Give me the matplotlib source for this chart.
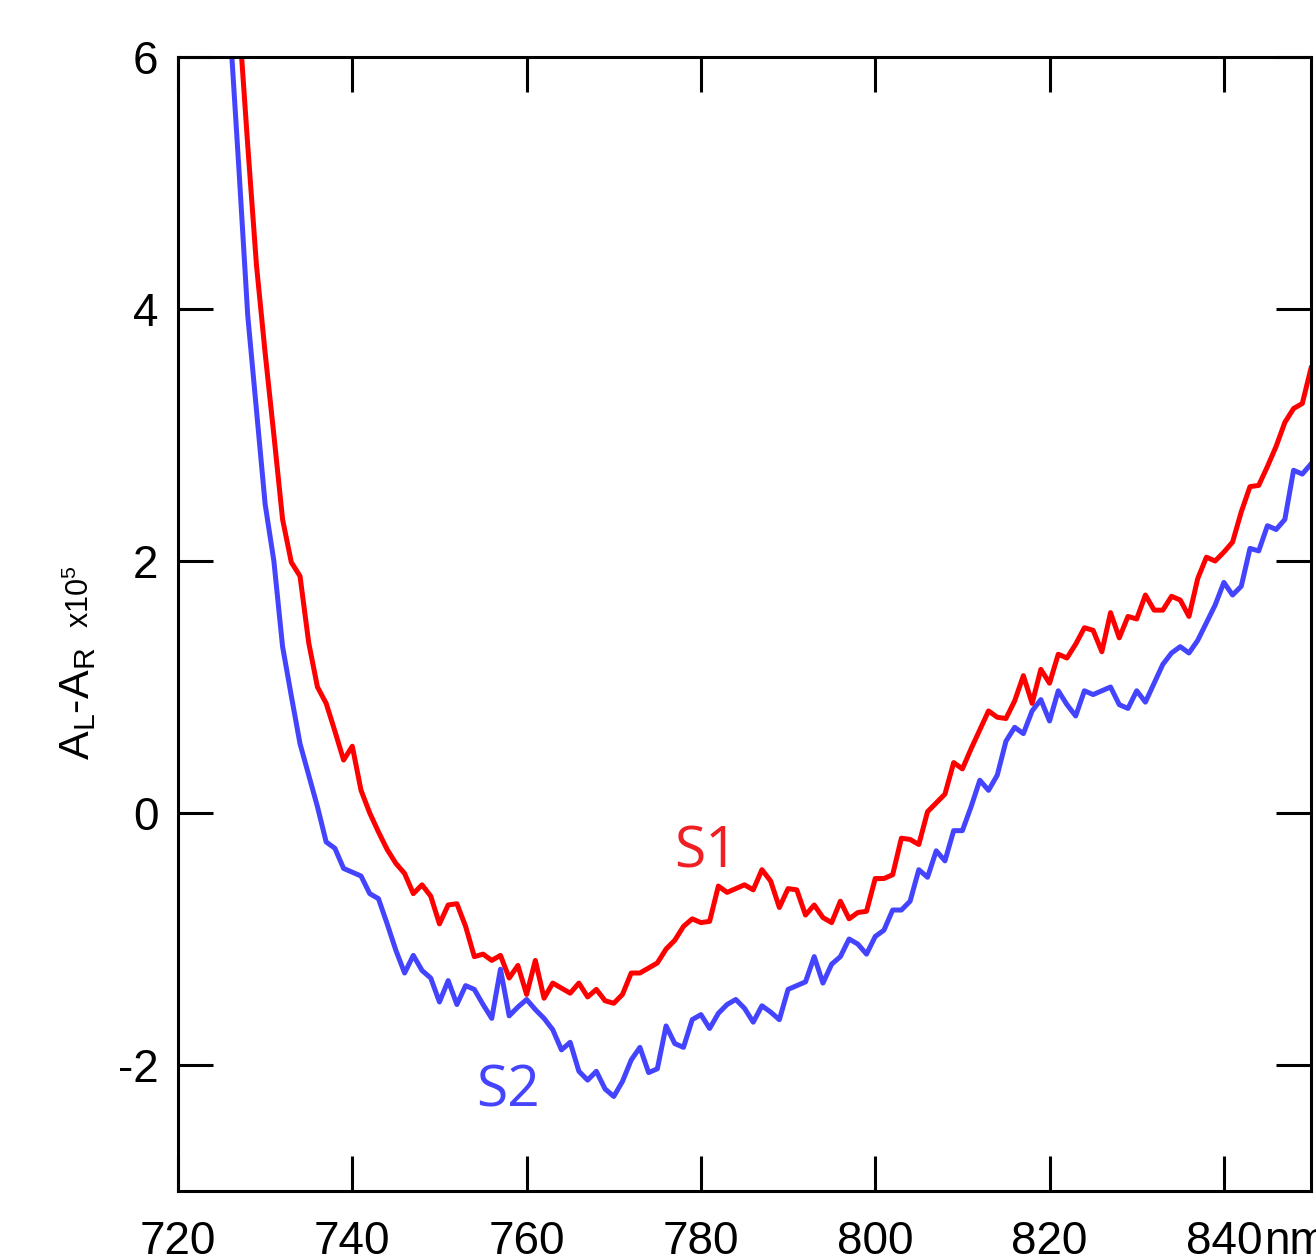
import numpy as np
import matplotlib
matplotlib.use('Agg')
import matplotlib.pyplot as plt
from matplotlib.transforms import blended_transform_factory

plt.rcParams['font.family'] = ['Liberation Sans', 'DejaVu Sans']
plt.rcParams['mathtext.default'] = 'regular'

# wavelength grid, 1 nm steps
wavelength = np.arange(726, 851)

s1 = [7.3, 6.3, 5.3, 4.35, 3.65, 3.0, 2.33, 1.99, 1.88, 1.35,
      1.00, 0.87, 0.65, 0.42, 0.53, 0.18, 0.0, -0.15, -0.29, -0.40,
      -0.48, -0.64, -0.57, -0.66, -0.88, -0.73, -0.72, -0.90, -1.14, -1.12,
      -1.17, -1.13, -1.31, -1.21, -1.44, -1.17, -1.47, -1.35, -1.39, -1.43,
      -1.35, -1.46, -1.40, -1.49, -1.51, -1.44, -1.27, -1.27, -1.23, -1.19,
      -1.08, -1.01, -0.90, -0.84, -0.87, -0.86, -0.58, -0.63, -0.60, -0.57,
      -0.61, -0.45, -0.54, -0.75, -0.60, -0.61, -0.81, -0.73, -0.83, -0.87,
      -0.70, -0.84, -0.79, -0.78, -0.52, -0.52, -0.49, -0.20, -0.21, -0.25,
      0.01, 0.08, 0.15, 0.40, 0.35, 0.51, 0.66, 0.81, 0.76, 0.75,
      0.89, 1.09, 0.87, 1.14, 1.03, 1.26, 1.23, 1.34, 1.47, 1.45,
      1.28, 1.59, 1.39, 1.56, 1.54, 1.73, 1.61, 1.61, 1.72, 1.69,
      1.56, 1.86, 2.03, 2.00, 2.07, 2.15, 2.39, 2.59, 2.60, 2.75,
      2.91, 3.10, 3.21, 3.25, 3.53]

s2 = [6.2, 5.1, 3.95, 3.2, 2.45, 2.0, 1.32, 0.93, 0.55, 0.30,
      0.05, -0.23, -0.28, -0.44, -0.47, -0.50, -0.64, -0.68, -0.88, -1.09,
      -1.27, -1.13, -1.25, -1.31, -1.50, -1.33, -1.52, -1.37, -1.40, -1.52,
      -1.63, -1.24, -1.61, -1.54, -1.48, -1.56, -1.63, -1.72, -1.88, -1.82,
      -2.05, -2.12, -2.05, -2.19, -2.25, -2.13, -1.96, -1.86, -2.06, -2.03,
      -1.69, -1.83, -1.86, -1.64, -1.60, -1.71, -1.59, -1.52, -1.48, -1.55,
      -1.66, -1.53, -1.58, -1.64, -1.40, -1.37, -1.34, -1.14, -1.35, -1.20,
      -1.14, -1.00, -1.04, -1.12, -0.98, -0.93, -0.77, -0.77, -0.70, -0.45,
      -0.51, -0.30, -0.38, -0.14, -0.14, 0.05, 0.26, 0.18, 0.30, 0.57,
      0.68, 0.63, 0.81, 0.90, 0.73, 0.97, 0.86, 0.77, 0.97, 0.94,
      0.97, 1.00, 0.86, 0.83, 0.97, 0.88, 1.03, 1.18, 1.27, 1.32,
      1.27, 1.37, 1.51, 1.65, 1.83, 1.73, 1.80, 2.10, 2.08, 2.28,
      2.25, 2.33, 2.72, 2.69, 2.77]

xticks = [720, 740, 760, 780, 800, 820, 840]
xticklabels = ['720', '740', '760', '780', '800', '820', '840']
yticks = [-2, 0, 2, 4, 6]
yticklabels = ['-2', '0', '2', '4', '6']

fig = plt.figure(figsize=(13.16, 12.6), dpi=100)
ax = fig.add_axes([178 / 1316, 1 - 1191 / 1260, 1133 / 1316, 1134 / 1260])

ax.plot(wavelength, s1, color='#ff0000', lw=3.6, solid_joinstyle='round')
ax.plot(wavelength, s2, color='#4444ff', lw=3.6, solid_joinstyle='round')

ax.set_xlim(720, 850)
ax.set_ylim(-3, 6)
ax.set_xticks(xticks)
ax.set_xticklabels(xticklabels)
ax.set_yticks(yticks)
ax.set_yticklabels(yticklabels)

for sp in ax.spines.values():
    sp.set_linewidth(2.2)
ax.tick_params(direction='in', length=25, width=2.2, labelsize=33,
               top=True, right=True)
ax.tick_params(axis='x', pad=21)
ax.tick_params(axis='y', pad=14)

# unit after the last tick label
trans = blended_transform_factory(ax.transData, ax.transAxes)
ax.text(844.6, -0.0255, 'nm', transform=trans, fontsize=33,
        ha='left', va='top', clip_on=False)

ax.text(776.9, -0.43, 'S1', color='#ee2024', fontsize=41,
        family='Open Sans', ha='left', va='baseline')
ax.text(754.2, -2.33, 'S2', color='#4444ff', fontsize=41,
        family='Open Sans', ha='left', va='baseline')

fig.text(89 / 1316, 1 - 760 / 1260, 'A$_L$-A$_R$', rotation=90,
         rotation_mode='anchor', fontsize=31, ha='left', va='baseline')
fig.text(89 / 1316, 1 - 628 / 1260, 'x10$^5$', rotation=90,
         rotation_mode='anchor', fontsize=22, ha='left', va='baseline')

fig.savefig('out.png', dpi=100)
